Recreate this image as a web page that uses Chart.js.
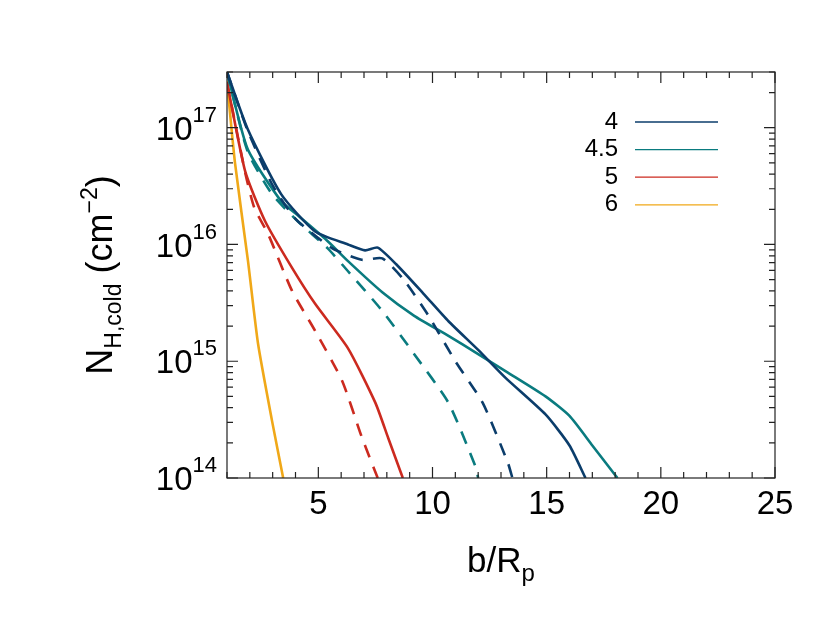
<!DOCTYPE html>
<html>
<head>
<meta charset="utf-8">
<script src="https://cdn.jsdelivr.net/npm/chart.js@4.4.0/dist/chart.umd.min.js"></script>
<style>
  body { margin: 0; background: #fff; }
  #wrap { width: 830px; height: 623px; }
</style>
</head>
<body>
<div id="wrap"><canvas id="nhChart" width="830" height="623"></canvas></div>
<script>
// column density profiles (x in b/Rp, y in cm^-2)
const legendLabels = ['4', '4.5', '5', '6'];
const colors = ['#0b3d6b', '#0a7b7f', '#cc2a1f', '#f0a818'];

const solid4 = [[1.0, 3.0e17], [1.9, 9.8e16], [3.37, 2.7e16], [4.86, 1.29e16], [6.3, 1.0e16], [7.05, 8.9e15],
  [7.6, 9.4e15], [8.4, 6.8e15], [9.6, 3.8e15], [10.7, 2.2e15], [12.0, 1.25e15], [13.2, 7.2e14], [14.95, 3.5e14], [16.0, 1.9e14], [16.7, 1.0e14]];
const dashed4 = [[1.0, 3.0e17], [1.9, 9.5e16], [3.0, 3.2e16], [4.0, 1.66e16], [5.6, 9.3e15], [6.9, 7.4e15],
  [7.8, 7.6e15], [8.7, 5.1e15], [9.8, 2.5e15], [11.0, 1.0e15], [12.2, 4.4e14], [13.3, 1.35e14], [13.5, 1.0e14]];
const solid45 = [[1.0, 3.0e17], [1.9, 6.6e16], [3.37, 2.35e16], [4.1, 1.78e16], [5.3, 1.12e16], [6.3, 7.2e15],
  [7.8, 3.9e15], [9.2, 2.45e15], [10.7, 1.65e15], [12.0, 1.15e15], [13.3, 8.0e14], [14.95, 5.0e14], [16.0, 3.4e14], [17.0, 1.9e14], [18.1, 1.0e14]];
const dashed45 = [[1.0, 3.0e17], [1.9, 6.3e16], [2.97, 2.7e16], [4.1, 1.58e16], [5.4, 9.3e15], [6.3, 5.9e15],
  [7.8, 2.7e15], [9.2, 1.15e15], [10.7, 4.4e14], [11.9, 1.23e14], [12.0, 1.0e14]];
const solid5 = [[1.0, 2.45e17], [1.8, 4.2e16], [2.67, 1.58e16], [3.85, 6.3e15], [4.86, 3.1e15], [6.3, 1.29e15],
  [7.5, 4.4e14], [8.06, 2.2e14], [8.7, 1.0e14]];
const dashed5 = [[1.0, 2.45e17], [1.8, 4.1e16], [2.2, 2.05e16], [2.8, 1.23e16], [3.85, 4.0e15], [4.86, 1.82e15],
  [6.04, 6.8e14], [6.9, 2.25e14], [7.6, 1.0e14]];
const solid6 = [[1.0, 2.5e17], [1.35, 5.0e16], [1.92, 7.2e15], [2.36, 1.41e15], [2.97, 3.1e14], [3.46, 1.0e14]];

const xTickLabels = [5, 10, 15, 20, 25];
const yTickExps = [14, 15, 16, 17];

function pts(arr) { return arr.map(p => ({ x: p[0], y: p[1] })); }
function ds(data, color, dashed) {
    return { data: pts(data), borderColor: color, borderWidth: 2.6, pointRadius: 0,
        borderDash: dashed ? [13, 10] : [], tension: 0.2, fill: false };
}

const FONT = '"Liberation Sans", Arial, sans-serif';

// axes box, inward ticks, tick labels, titles and legend
const framePlugin = {
    id: 'frame',
    afterDraw(chart) {
        const c = chart.ctx, a = chart.chartArea;
        const xs = chart.scales.x, ys = chart.scales.y;
        c.save();
        c.strokeStyle = '#222';
        c.lineWidth = 1.2;
        c.strokeRect(a.left, a.top, a.right - a.left, a.bottom - a.top);
        c.beginPath();
        for (let v = 1; v <= 25; v++) {
            const px = xs.getPixelForValue(v);
            const len = v % 5 === 0 ? 11 : 6;
            c.moveTo(px, a.bottom); c.lineTo(px, a.bottom - len);
            c.moveTo(px, a.top); c.lineTo(px, a.top + len);
        }
        for (let e = 14; e <= 17; e++) {
            for (let m = 1; m <= 9; m++) {
                const v = m * Math.pow(10, e);
                if (v > 3e17) continue;
                const py = ys.getPixelForValue(v);
                const len = m === 1 ? 11 : 6;
                c.moveTo(a.left, py); c.lineTo(a.left + len, py);
                c.moveTo(a.right, py); c.lineTo(a.right - len, py);
            }
        }
        c.stroke();

        c.fillStyle = '#000';
        c.font = '33px ' + FONT;
        c.textAlign = 'center';
        c.textBaseline = 'top';
        xTickLabels.forEach(v => c.fillText(String(v), xs.getPixelForValue(v), a.bottom + 10));

        yTickExps.forEach(e => {
            const py = ys.getPixelForValue(Math.pow(10, e));
            c.font = '22px ' + FONT;
            const ew = c.measureText(String(e)).width;
            c.textAlign = 'right';
            c.textBaseline = 'middle';
            c.fillText(String(e), a.left - 10, py - 12);
            c.font = '33px ' + FONT;
            c.fillText('10', a.left - 10 - ew, py + 3);
        });

        // x title b/R_p
        c.textBaseline = 'alphabetic';
        c.textAlign = 'left';
        c.font = '35px ' + FONT;
        const t1 = 'b/R', w1 = c.measureText(t1).width;
        c.font = '24px ' + FONT;
        const w2 = c.measureText('p').width;
        let x0 = (a.left + a.right) / 2 - (w1 + w2) / 2;
        c.font = '35px ' + FONT;
        c.fillText(t1, x0, 572);
        c.font = '24px ' + FONT;
        c.fillText('p', x0 + w1, 581);

        // y title N_H,cold (cm^-2)
        c.save();
        c.translate(112, (a.top + a.bottom) / 2);
        c.rotate(-Math.PI / 2);
        const parts = [['N', 36, 0], ['H,cold', 23, 9], [' (cm', 36, 0], ['\u22122', 23, -15], [')', 36, 0]];
        let tot = 0;
        parts.forEach(p => { c.font = p[1] + 'px ' + FONT; tot += c.measureText(p[0]).width; });
        let cx = -tot / 2;
        parts.forEach(p => {
            c.font = p[1] + 'px ' + FONT;
            c.fillText(p[0], cx, p[2]);
            cx += c.measureText(p[0]).width;
        });
        c.restore();

        // legend
        c.font = '24px ' + FONT;
        c.textAlign = 'right';
        c.textBaseline = 'middle';
        legendLabels.forEach((lab, i) => {
            const ly = 121 + i * 27.6;
            c.fillStyle = '#000';
            c.fillText(lab, 618, ly + 1);
            c.strokeStyle = colors[i];
            c.lineWidth = 1.3;
            c.beginPath(); c.moveTo(635, ly + 1); c.lineTo(718, ly + 1); c.stroke();
        });
        c.restore();
    }
};

const ctx = document.getElementById('nhChart').getContext('2d');
new Chart(ctx, {
    type: 'line',
    data: {
        datasets: [
            ds(solid4, colors[0], false), ds(dashed4, colors[0], true),
            ds(solid45, colors[1], false), ds(dashed45, colors[1], true),
            ds(solid5, colors[2], false), ds(dashed5, colors[2], true),
            ds(solid6, colors[3], false)
        ]
    },
    options: {
        responsive: false,
        animation: false,
        layout: { padding: { left: 227, top: 72, right: 55, bottom: 145 } },
        plugins: { legend: { display: false }, tooltip: { enabled: false } },
        scales: {
            x: { type: 'linear', min: 1, max: 25, display: false },
            y: { type: 'logarithmic', min: 1e14, max: 3e17, display: false }
        }
    },
    plugins: [framePlugin]
});
</script>
</body>
</html>
